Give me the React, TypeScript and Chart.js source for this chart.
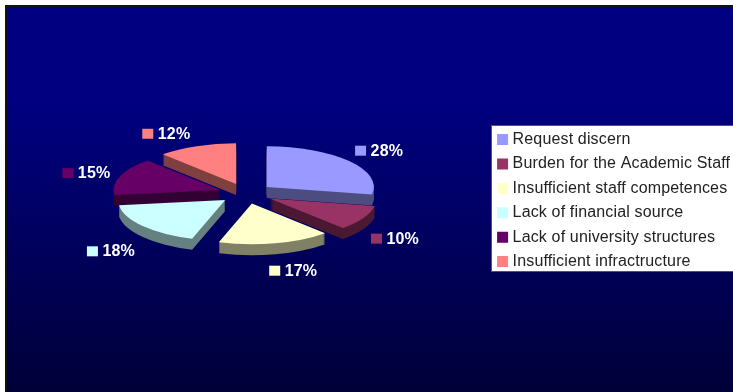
import React, { useEffect, useRef } from "react";
import { Chart, registerables } from "chart.js";

Chart.register(...registerables);

const categories = [
  "Request discern",
  "Burden for the Academic Staff",
  "Insufficient staff competences",
  "Lack of financial source",
  "Lack of university structures",
  "Insufficient infractructure",
];
const shares = [28, 10, 17, 18, 15, 12];
const faceColors = ["#9999FF", "#993366", "#FFFFCC", "#CCFFFF", "#660066", "#FF8080"];
const sideColors = ["#4D4D80", "#4C1933", "#808066", "#668080", "#330033", "#804040"];
// Small corrections to the radial placement of each percentage tag.
const tagNudges = [
  [-1, 5],
  [-1, 9],
  [-4, 4],
  [-38, 10],
  [-37, 5],
  [-43, 10],
];

const WIDTH = 733;
const HEIGHT = 392;
const TILT = 0.38;
const EXPLODE = 27;
const DEPTH = 11;

// Paints the page backdrop: white margin, dark frame and navy gradient.
const backdrop = {
  id: "backdrop",
  beforeDraw(chart: any) {
    const { ctx } = chart;
    ctx.save();
    ctx.fillStyle = "#ffffff";
    ctx.fillRect(0, 0, WIDTH, HEIGHT);
    ctx.fillStyle = "#111111";
    ctx.fillRect(5, 5, WIDTH - 5, HEIGHT - 5);
    const g = ctx.createLinearGradient(0, 7, 0, HEIGHT);
    g.addColorStop(0, "#000080");
    g.addColorStop(0.25, "#000080");
    g.addColorStop(1, "#000038");
    ctx.fillStyle = g;
    ctx.fillRect(7, 7, WIDTH - 7, HEIGHT - 7);
    // Legend panel
    ctx.fillStyle = "#555555";
    ctx.fillRect(491, 125, WIDTH - 491, 147);
    ctx.fillStyle = "#ffffff";
    ctx.fillRect(492, 126, WIDTH - 492, 145);
    ctx.restore();
    (ctx as any).letterSpacing = "0.15px";
  },
};

// Moves the legend onto its panel once the layout pass has finished.
const legendPlacement = {
  id: "legendPlacement",
  afterLayout(chart: any) {
    const legend = chart.legend;
    legend.left = 492.2;
    legend.top = 123.2;
    legend.right = WIDTH;
    legend.bottom = HEIGHT;
    legend.width = WIDTH - legend.left;
    legend.height = HEIGHT - legend.top;
  },
};

// Draws the slices as a tilted, exploded, extruded pie.
const tiltedPie = {
  id: "tiltedPie",
  beforeDatasetsDraw(chart: any) {
    const { ctx } = chart;
    const arcs: any[] = chart.getDatasetMeta(0).data;
    const order = arcs
      .map((arc, i) => ({ arc, i, mid: (arc.startAngle + arc.endAngle) / 2 }))
      .sort((a, b) => Math.sin(a.mid) - Math.sin(b.mid));

    for (const { arc, i, mid } of order) {
      const shiftX = Math.cos(mid) * EXPLODE;
      const shiftY = Math.sin(mid) * EXPLODE * TILT;
      for (let d = DEPTH; d >= 1; d--) {
        ctx.save();
        ctx.translate(arc.x + shiftX, arc.y + shiftY + d);
        ctx.scale(1, TILT);
        ctx.beginPath();
        ctx.moveTo(0, 0);
        ctx.arc(0, 0, arc.outerRadius, arc.startAngle, arc.endAngle);
        ctx.closePath();
        ctx.fillStyle = sideColors[i];
        ctx.fill();
        ctx.restore();
      }
      ctx.save();
      ctx.translate(arc.x + shiftX, arc.y + shiftY);
      ctx.scale(1, TILT);
      ctx.translate(-arc.x, -arc.y);
      arc.draw(ctx);
      ctx.restore();
    }

    // Percentage tags: coloured key plus bold white value.
    arcs.forEach((arc, i) => {
      const mid = (arc.startAngle + arc.endAngle) / 2;
      const kx = arc.x + Math.cos(mid) * 150 + tagNudges[i][0];
      const ky = arc.y + Math.sin(mid) * 75 + tagNudges[i][1];
      ctx.save();
      ctx.fillStyle = faceColors[i];
      ctx.fillRect(kx - 5.5, ky - 5, 11, 10);
      ctx.fillStyle = "#ffffff";
      ctx.font = "bold 16px 'Liberation Sans'";
      ctx.textAlign = "left";
      ctx.textBaseline = "middle";
      ctx.fillText(`${shares[i]}%`, kx + 10, ky + 0.5);
      ctx.restore();
    });
    return false;
  },
};

export default function App() {
  const ref = useRef<HTMLCanvasElement>(null);

  useEffect(() => {
    if (!ref.current) return;
    const baseLabels = (Chart as any).overrides.pie.plugins.legend.labels.generateLabels;
    const chart = new Chart(ref.current, {
      type: "pie",
      data: {
        labels: categories,
        datasets: [
          {
            data: shares,
            backgroundColor: faceColors,
            borderWidth: 0,
          },
        ],
      },
      options: {
        responsive: false,
        animation: false,
        layout: { padding: { left: 139, right: 380, top: 86.5, bottom: 91.5 } },
        plugins: {
          tooltip: { enabled: false },
          legend: {
            position: "chartArea" as any,
            align: "start",
            labels: {
              color: "#222222",
              font: { family: "'Liberation Sans'", size: 16 },
              boxWidth: 4,
              boxHeight: 4,
              padding: 8.4,
              generateLabels: (c: any) =>
                baseLabels(c).map((item: any) => ({
                  ...item,
                  strokeStyle: item.fillStyle,
                  lineWidth: 7,
                })),
            },
          },
        },
      },
      plugins: [backdrop, legendPlacement, tiltedPie],
    } as any);
    return () => chart.destroy();
  }, []);

  return (
    <div style={{ position: "absolute", left: 0, top: 0, width: WIDTH, height: HEIGHT }}>
      <canvas ref={ref} width={WIDTH} height={HEIGHT} style={{ display: "block" }} />
    </div>
  );
}
